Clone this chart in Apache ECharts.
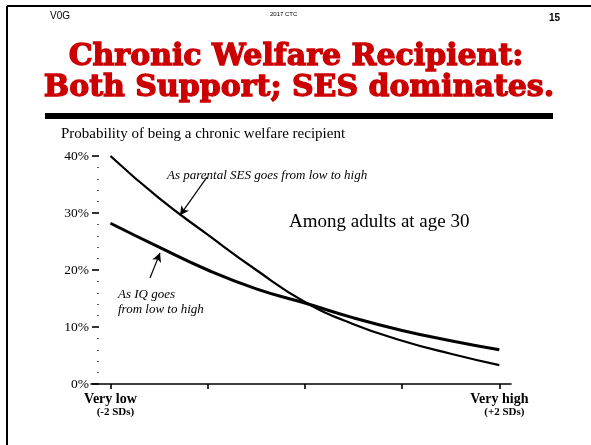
<!DOCTYPE html>
<html>
<head>
<meta charset="utf-8">
<script src="https://cdn.jsdelivr.net/npm/echarts@6/dist/echarts.min.js"></script>
<style>html,body{margin:0;padding:0;background:#fff}#c{width:591px;height:445px}</style>
</head>
<body>
<div id="c"></div>
<script>
// Data (x in SDs from the mean, y in %)
const sdPoints = [-2, -1.5, -1, -0.5, 0, 0.5, 1, 1.5, 2];
const sesValues = [40, 32.6, 26.2, 20.0, 14.4, 10.5, 7.6, 5.3, 3.3];
const iqValues = [28.2, 24.0, 20.0, 16.7, 14.2, 11.6, 9.4, 7.6, 6.0];
const yTicks = [0, 10, 20, 30, 40];
const xTickValues = [-2, -1, 0, 1, 2];
const xLabelValues = [-2, 2];
const xLabelText = {'-2': ['Very low', '(-2 SDs)'], '2': ['Very high', '(+2 SDs)']};
const sesArrow = [[-1.007, 36.3], [-1.285, 29.6]];
const iqArrow = [[-1.593, 18.6], [-1.49, 23.0]];

const chart = echarts.init(document.getElementById('c'), null, {renderer: 'canvas'});
const serif = '"Liberation Serif", "DejaVu Serif", serif';

function pairs(xs, ys) { return xs.map((x, i) => [x, ys[i]]); }

const option = {
  animation: false,
  backgroundColor: '#fff',
  grid: {left: 91, right: 80, top: 156, bottom: 61},
  xAxis: {
    type: 'value', min: -2.2, max: 2.12,
    axisLine: {show: true, onZero: false, lineStyle: {color: '#000', width: 1.6}},
    axisTick: {show: true, customValues: xTickValues, length: 5, lineStyle: {color: '#000', width: 1.6}},
    axisLabel: {
      show: true, customValues: xLabelValues, margin: 8,
      formatter: v => { const t = xLabelText[String(Math.round(v))]; return t ? '{a|' + t[0] + '}\n{b|' + t[1] + '}' : ''; },
      rich: {
        a: {fontFamily: serif, fontSize: 14, fontWeight: 'bold', color: '#000', lineHeight: 14},
        b: {fontFamily: serif, fontSize: 11, fontWeight: 'bold', color: '#000', lineHeight: 13, padding: [0, 0, 0, 10]}
      }
    },
    splitLine: {show: false}
  },
  yAxis: {
    type: 'value', min: 0, max: 40, interval: 10, offset: -8,
    axisLine: {show: false, onZero: false},
    axisTick: {show: true, length: 7, lineStyle: {color: '#000', width: 1.6}},
    minorTick: {show: true, splitNumber: 5, length: 2, lineStyle: {color: '#555', width: 1}},
    axisLabel: {formatter: v => v + '%', fontFamily: serif, fontSize: 13.5, color: '#000', margin: 10},
    splitLine: {show: false}
  },
  series: [
    {
      type: 'line', name: 'SES', data: pairs(sdPoints, sesValues), smooth: 0.5,
      showSymbol: false, lineStyle: {color: '#000', width: 2.2},
      markLine: {
        silent: true, symbol: ['none', 'arrow'], symbolSize: [7, 9],
        lineStyle: {color: '#000', width: 1.2, type: 'solid'}, label: {show: false},
        data: [
          [{coord: sesArrow[0]}, {coord: sesArrow[1]}],
          [{coord: iqArrow[0]}, {coord: iqArrow[1]}]
        ]
      }
    },
    {
      type: 'line', name: 'IQ', data: pairs(sdPoints, iqValues), smooth: 0.5,
      showSymbol: false, lineStyle: {color: '#000', width: 3}
    }
  ],
  graphic: [
    {type: 'line', shape: {x1: 7, y1: 6, x2: 591, y2: 6}, style: {stroke: '#000', lineWidth: 2}},
    {type: 'line', shape: {x1: 7, y1: 6, x2: 7, y2: 445}, style: {stroke: '#000', lineWidth: 2}},
    {type: 'text', left: 50, top: 11, style: {text: 'V0G', font: '10px "Liberation Sans", Arial, sans-serif', fill: '#000'}},
    {type: 'text', left: 270, top: 11, style: {text: '2017 CTC', font: '6px "Liberation Sans", Arial, sans-serif', fill: '#000'}},
    {type: 'text', left: 549, top: 13, style: {text: '15', font: 'bold 10px "Liberation Sans", Arial, sans-serif', fill: '#000'}},
    {type: 'text', x: 296, y: 57, style: {text: 'Chronic Welfare Recipient:', font: 'bold 30px "DejaVu Serif", serif', fill: '#cc0000', stroke: '#cc0000', lineWidth: 1.3, align: 'center', verticalAlign: 'middle'}},
    {type: 'text', x: 299, y: 88, style: {text: 'Both Support; SES dominates.', font: 'bold 30px "DejaVu Serif", serif', fill: '#cc0000', stroke: '#cc0000', lineWidth: 1.3, align: 'center', verticalAlign: 'middle'}},
    {type: 'rect', shape: {x: 45, y: 113, width: 508, height: 6}, style: {fill: '#000'}},
    {type: 'text', x: 61, y: 134, style: {text: 'Probability of being a chronic welfare recipient', font: '15px ' + serif, fill: '#000', verticalAlign: 'middle'}},
    {type: 'text', x: 167, y: 176, style: {text: 'As parental SES goes from low to high', font: 'italic 13px ' + serif, fill: '#000', verticalAlign: 'middle'}},
    {type: 'text', x: 289, y: 222, style: {text: 'Among adults at age 30', font: '19px ' + serif, fill: '#000', verticalAlign: 'middle'}},
    {type: 'text', x: 118, y: 295, style: {text: 'As IQ goes', font: 'italic 13px ' + serif, fill: '#000', verticalAlign: 'middle'}},
    {type: 'text', x: 118, y: 310, style: {text: 'from low to high', font: 'italic 13px ' + serif, fill: '#000', verticalAlign: 'middle'}}
  ]
};
chart.setOption(option);
</script>
</body>
</html>
